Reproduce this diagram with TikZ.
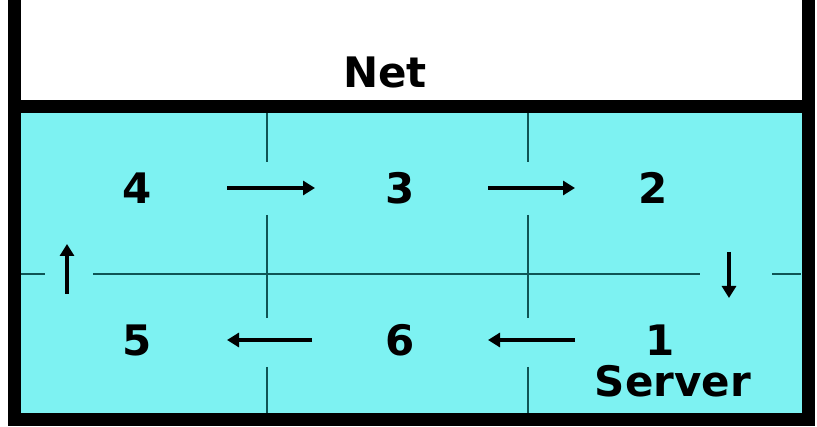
\documentclass[tikz,border=0pt]{standalone}
\usepackage{fontspec}
\setmainfont{DejaVu Sans}
\usetikzlibrary{arrows.meta}
\definecolor{poolcyan}{RGB}{125,242,242}
\definecolor{gridteal}{RGB}{15,85,85}

\begin{document}
\begin{tikzpicture}[x=1pt,y=-1pt]
  \tikzset{wall/.style = {line width=13pt}}
  \tikzset{grid/.style = {gridteal,line width=2.3pt}}
  \tikzset{flow/.style = {-{Triangle[length=12pt,width=14pt]},line width=3.5pt}}
  \tikzset{cell/.style = {font=\fontsize{42}{46}\bfseries\selectfont,inner sep=0pt}}
  \useasboundingbox (0,0) rectangle (817,427);
  \fill[poolcyan] (14,107) rectangle (808,420);

  % grid of cells
  \foreach \x in {267,528}
    \draw[grid] (\x,113) -- (\x,162) (\x,215) -- (\x,318) (\x,367) -- (\x,413);
  \draw[grid] (20,274) -- (45,274) (93,274) -- (700,274) (772,274) -- (801,274);

  % walls
  \draw[wall] (14,0) -- (14,420) -- (808,420) -- (808,0);
  \draw[wall] (14,107) -- (808,107);

	\node[cell] (net) at (385,72) {Net};
	\node[cell] (4) at (137,188) {4};
	\node[cell] (3) at (400,188) {3};
	\node[cell] (2) at (653,188) {2};
	\node[cell] (5) at (137,340) {5};
	\node[cell] (6) at (400,340) {6};
	\node[cell] (1) at (660,340) {1};
	\node[cell] (server) at (673,381) {Server};
  \coordinate (upfrom) at (67,294);
  \coordinate (upto) at (67,244);
  \coordinate (downfrom) at (729,252);
  \coordinate (downto) at (729,298);

    \draw[flow,shorten <=90pt,shorten >=85pt] (4.center) -- (3.center);
    \draw[flow,shorten <=88pt,shorten >=78pt] (3.center) -- (2.center);
    \draw[flow,shorten <=85pt,shorten >=88pt] (1.center) -- (6.center);
    \draw[flow,shorten <=88pt,shorten >=90pt] (6.center) -- (5.center);
    \draw[flow] (upfrom) -- (upto);
    \draw[flow] (downfrom) -- (downto);
\end{tikzpicture}
\end{document}
